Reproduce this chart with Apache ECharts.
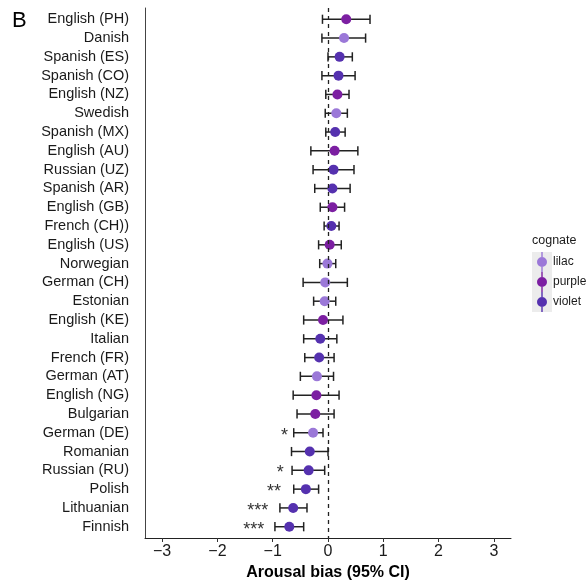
<!DOCTYPE html>
<html>
<head>
<meta charset="utf-8">
<script src="https://cdn.jsdelivr.net/npm/echarts@6/dist/echarts.min.js"></script>
<style>
html,body{margin:0;padding:0;background:#fff;}
#chart{width:587px;height:580px;}
</style>
</head>
<body>
<div id="chart"></div>
<script>
const languages = ['English (PH)','Danish','Spanish (ES)','Spanish (CO)','English (NZ)','Swedish','Spanish (MX)','English (AU)','Russian (UZ)','Spanish (AR)','English (GB)','French (CH))','English (US)','Norwegian','German (CH)','Estonian','English (KE)','Italian','French (FR)','German (AT)','English (NG)','Bulgarian','German (DE)','Romanian','Russian (RU)','Polish','Lithuanian','Finnish'];
const bias   = [0.33,0.29,0.21,0.19,0.17,0.15,0.13,0.12,0.10,0.08,0.08,0.06,0.03,-0.01,-0.05,-0.06,-0.09,-0.14,-0.16,-0.20,-0.21,-0.23,-0.27,-0.33,-0.35,-0.40,-0.63,-0.70];
const ciLow  = [-0.10,-0.11,0.00,-0.11,-0.04,-0.05,-0.04,-0.31,-0.27,-0.24,-0.14,-0.07,-0.17,-0.15,-0.45,-0.26,-0.44,-0.44,-0.42,-0.50,-0.63,-0.56,-0.62,-0.66,-0.65,-0.62,-0.87,-0.96];
const ciHigh = [0.76,0.68,0.44,0.49,0.38,0.35,0.31,0.54,0.47,0.40,0.30,0.20,0.24,0.14,0.35,0.14,0.27,0.16,0.11,0.10,0.20,0.11,-0.09,0.00,-0.06,-0.17,-0.38,-0.44];
const cognate = ['purple','lilac','violet','violet','purple','lilac','violet','purple','violet','violet','purple','violet','purple','lilac','lilac','lilac','purple','violet','violet','lilac','purple','purple','lilac','violet','violet','violet','violet','violet'];
const stars = ['','','','','','','','','','','','','','','','','','','','','','','*','','*','**','***','***'];
const cognateLevels = ['lilac','purple','violet'];
const xTicks = [-3,-2,-1,0,1,2,3];

const colors = {lilac:'#9b78d8', purple:'#7c1fa2', violet:'#5531af'};
const FONT = 'Liberation Sans, Arial, Helvetica, sans-serif';
const iconPath = 'path://M4.3,0 h1.4 v6 h-1.4 z M4.3,14 h1.4 v6 h-1.4 z M5,5 A5,5 0 1 1 5,15 A5,5 0 1 1 5,5 z';

const chart = echarts.init(document.getElementById('chart'), null, {renderer:'canvas'});

const errData = languages.map((_, i) => [ciLow[i], ciHigh[i], i, bias[i]]);

const series = [{
  type: 'custom',
  name: 'ci',
  z: 2,
  encode: {x: [0, 1], y: 2},
  data: errData,
  renderItem: function (params, api) {
    const y = api.value(2);
    const lo = api.coord([api.value(0), y]);
    const hi = api.coord([api.value(1), y]);
    const pt = api.coord([api.value(3), y]);
    const h = 4.6;
    const st = {stroke: '#222', lineWidth: 1.5};
    const children = [
      {type:'line', shape:{x1:lo[0], y1:lo[1], x2:hi[0], y2:hi[1]}, style:st},
      {type:'line', shape:{x1:lo[0], y1:lo[1]-h, x2:lo[0], y2:lo[1]+h}, style:st},
      {type:'line', shape:{x1:hi[0], y1:hi[1]-h, x2:hi[0], y2:hi[1]+h}, style:st}
    ];
    const s = stars[params.dataIndex];
    if (s) {
      children.push({type:'text', style:{text:s, x: pt[0]-25, y: pt[1]+3, align:'right', verticalAlign:'middle', fontSize:18, fontFamily:FONT, fill:'#333'}});
    }
    return {type:'group', children: children};
  },
  markLine: {
    silent: true,
    symbol: 'none',
    label: {show: false},
    lineStyle: {type: [4, 4], color: '#222', width: 1.3},
    data: [{xAxis: 0}]
  }
}];

cognateLevels.forEach(level => {
  series.push({
    type: 'scatter',
    name: level,
    z: 3,
    symbol: 'circle',
    symbolSize: 10,
    itemStyle: {color: colors[level], opacity: 1},
    data: languages.map((_, i) => cognate[i] === level ? [bias[i], i] : null).filter(d => d)
  });
});

chart.setOption({
  animation: false,
  backgroundColor: '#fff',
  textStyle: {fontFamily: FONT},
  grid: {left: 145, right: 76, top: 8, bottom: 42, containLabel: false, outerBoundsMode: 'none'},
  xAxis: {
    type: 'value',
    min: -3.31, max: 3.31,
    splitLine: {show: false},
    axisLine: {show: true, onZero: false, lineStyle: {color: '#222', width: 1}},
    axisTick: {show: true, length: 4, customValues: xTicks, lineStyle: {color: '#333'}},
    axisLabel: {
      customValues: xTicks, margin: 6, fontSize: 16, color: '#1a1a1a', fontFamily: FONT,
      formatter: v => v < 0 ? '\u2212' + Math.abs(v) : String(v)
    },
    name: 'Arousal bias (95% CI)',
    nameLocation: 'middle',
    nameGap: 22,
    nameTextStyle: {fontSize: 16, fontWeight: 'bold', color: '#000', fontFamily: FONT}
  },
  yAxis: {
    type: 'value',
    inverse: true,
    min: -0.6, max: 27.6,
    splitLine: {show: false},
    axisLine: {show: true, onZero: false, lineStyle: {color: '#444', width: 1}},
    axisTick: {show: false},
    axisLabel: {
      customValues: languages.map((_, i) => i),
      margin: 16, fontSize: 14.5, color: '#1a1a1a', fontFamily: FONT,
      formatter: v => languages[Math.round(v)]
    }
  },
  legend: {
    orient: 'vertical',
    left: 537, top: 252,
    itemWidth: 10, itemHeight: 20, itemGap: 0,
    padding: 0,
    icon: iconPath,
    data: cognateLevels,
    textStyle: {fontSize: 12, color: '#1a1a1a', fontFamily: FONT, padding: [0, 0, 0, 1]},
    selectedMode: false,
    z: 10
  },
  graphic: [
    {type: 'rect', left: 532, top: 252, z: 0, shape: {width: 20, height: 60}, style: {fill: '#ececec'}},
    {type: 'text', left: 532, top: 234, z: 1, style: {text: 'cognate', fontSize: 12.5, fill: '#1a1a1a', fontFamily: FONT}},
    {type: 'text', left: 12, top: 10, z: 1, style: {text: 'B', fontSize: 22, fill: '#000', fontFamily: FONT}}
  ],
  series: series
});
</script>
</body>
</html>
